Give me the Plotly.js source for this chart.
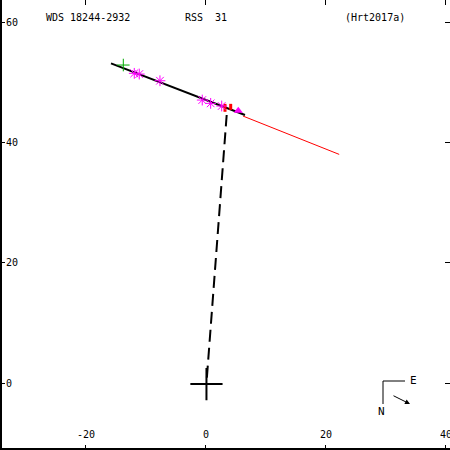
<!DOCTYPE html>
<html><head><meta charset="utf-8">
<script src="https://cdn.plot.ly/plotly-3.0.1.min.js"></script>
<style>html,body{margin:0;padding:0;background:#fff}#plot{width:450px;height:450px}</style>
</head><body><div id="plot"></div>
<script>
// Orbit (black solid)
const orbitX = [-15.83, 6.5];
const orbitY = [53.13, 44.54];
// Red line
const redX = [6.17, 22.2];
const redY = [44.37, 38.0];
// Dashed line from primary
const dashX = [0.15, 3.45];
const dashY = [0.9, 44.54];
// Measurements (magenta asterisks)
const measX = [-11.95, -11.12, -7.67, -0.62, 0.78, 2.62];
const measY = [51.47, 51.35, 50.24, 47.03, 46.48, 46.04];
// O-C segments (red)
const ocX = [3.17, 3.17, null, 4.12, 4.12];
const ocY = [46.4, 45.08, null, 46.4, 45.4];
// Other markers
const greenX = [-13.78], greenY = [52.85];
const triX = [5.38], triY = [45.26];
const primX = [0.08], primY = [-0.17];
// Ticks
const xTicks = [-20, 0, 20, 40];
const yTicks = [0, 20, 40, 60];
const xRange = [-34.33, 40.67];
const yRange = [-11.13, 63.66];

const mono = "DejaVu Sans Mono, monospace";
const traces = [
  {x: redX, y: redY, mode: 'lines', line: {color: '#ff0000', width: 1}},
  {x: orbitX, y: orbitY, mode: 'lines', line: {color: '#000', width: 2}},
  {x: dashX, y: dashY, mode: 'lines', line: {color: '#000', width: 2, dash: '12px,6px'}},
  {x: ocX, y: ocY, mode: 'lines', line: {color: '#ff0000', width: 3}},
  {x: measX, y: measY, mode: 'markers', marker: {symbol: 'asterisk-open', size: 9, color: '#ff00ff', line: {color: '#ff00ff', width: 1}}},
  {x: greenX, y: greenY, mode: 'markers', marker: {symbol: 'cross-thin-open', size: 9, color: '#00aa00', line: {color: '#00aa00', width: 1}}},
  {x: triX, y: triY, mode: 'markers', marker: {symbol: 'triangle-up', size: 8, color: '#ff00ff'}},
  {x: primX, y: primY, mode: 'markers', marker: {symbol: 'cross-thin-open', size: 23, color: '#000', line: {color: '#000', width: 2}}},
  {x: [0], y: [0], xaxis: 'x2', yaxis: 'y2', mode: 'markers', marker: {opacity: 0}}
];
const baseAxis = {showgrid: false, zeroline: false, ticks: 'inside', ticklen: 5, tickcolor: '#000', tickwidth: 1, showline: false};
const layout = {
  width: 450, height: 450, margin: {l: 0, r: 0, t: 0, b: 0},
  paper_bgcolor: '#fff', plot_bgcolor: '#fff', showlegend: false,
  font: {family: mono, size: 10, color: '#000'},
  xaxis: Object.assign({}, baseAxis, {range: xRange, tickvals: xTicks, ticktext: xTicks.map(String),
    ticklabelposition: 'inside', ticklabeloverflow: 'allow', ticklabelstandoff: 4,
    tickfont: {family: mono, size: 10, color: '#000'}}),
  yaxis: Object.assign({}, baseAxis, {range: yRange, tickvals: yTicks, ticktext: yTicks.map(String),
    ticklabelposition: 'inside', ticklabeloverflow: 'allow',
    tickfont: {family: mono, size: 10, color: '#000'}}),
  xaxis2: Object.assign({}, baseAxis, {range: xRange, tickvals: xTicks, overlaying: 'x', side: 'top', showticklabels: false}),
  yaxis2: Object.assign({}, baseAxis, {range: yRange, tickvals: yTicks, overlaying: 'y', side: 'right', showticklabels: false}),
  shapes: [
    {type: 'line', xref: 'paper', yref: 'paper', x0: 1/450, x1: 1/450, y0: 0, y1: 1, line: {color: '#000', width: 2}},
    {type: 'line', xref: 'paper', yref: 'paper', x0: 0, x1: 1, y0: 1/450, y1: 1/450, line: {color: '#000', width: 2}},
    {type: 'line', xref: 'paper', yref: 'paper', x0: 383/450, x1: 405/450, y0: 1-381/450, y1: 1-381/450, line: {color: '#000', width: 1}},
    {type: 'line', xref: 'paper', yref: 'paper', x0: 383/450, x1: 383/450, y0: 1-381/450, y1: 1-404/450, line: {color: '#000', width: 1}}
  ],
  annotations: [
    {text: 'WDS 18244-2932', xref: 'paper', yref: 'paper', x: 44/450, y: 1-17/450, xanchor: 'left', yanchor: 'middle', showarrow: false, font: {family: mono, size: 10}},
    {text: 'RSS  31', xref: 'paper', yref: 'paper', x: 183/450, y: 1-17/450, xanchor: 'left', yanchor: 'middle', showarrow: false, font: {family: mono, size: 10}},
    {text: '(Hrt2017a)', xref: 'paper', yref: 'paper', x: 343/450, y: 1-17/450, xanchor: 'left', yanchor: 'middle', showarrow: false, font: {family: mono, size: 10}},
    {text: 'E', xref: 'paper', yref: 'paper', x: 413/450, y: 1-380/450, xanchor: 'center', yanchor: 'middle', showarrow: false, font: {family: mono, size: 11}},
    {text: 'N', xref: 'paper', yref: 'paper', x: 381/450, y: 1-411/450, xanchor: 'center', yanchor: 'middle', showarrow: false, font: {family: mono, size: 11}},
    {text: '', xref: 'paper', yref: 'paper', x: 410/450, y: 1-404/450, ax: -18, ay: -9, showarrow: true, arrowhead: 2, arrowsize: 1, arrowwidth: 1, arrowcolor: '#000'}
  ]
};
Plotly.newPlot('plot', traces, layout, {staticPlot: true});
</script></body></html>
